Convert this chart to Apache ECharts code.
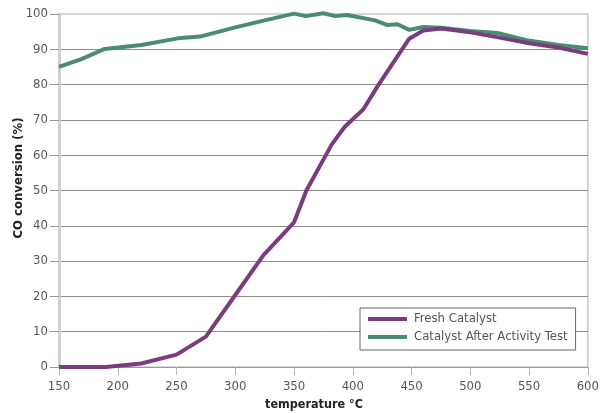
<!DOCTYPE html>
<html>
<head>
<meta charset="utf-8">
<script src="https://cdn.jsdelivr.net/npm/echarts@6/dist/echarts.min.js"></script>
<style>html,body{margin:0;padding:0;background:#fff}#c{width:602px;height:413px}</style>
</head>
<body>
<div id="c"></div>
<script>
const FONT = '"Liberation Sans Narrow","DejaVu Sans Condensed","Roboto",sans-serif';
const xTicks = [150, 200, 250, 300, 350, 400, 450, 500, 550, 600];
const freshName = 'Fresh Catalyst';
const freshTemp = [150,190,220,250,275,300,324,350,360.5,382,393,409,421,434,448,460,475,500,525,550,575,600];
const freshConv = [0,0,1,3.5,8.6,20.4,31.7,41,50,63,68,73,79.5,86,93,95.3,95.9,94.8,93.3,91.7,90.5,88.7];
const afterName = 'Catalyst After Activity Test';
const afterTemp = [150,169,189,220,251,270,300,325,350,360,375,385,395,419,429,438,448,460,475,500,523,548,575,600];
const afterConv = [85,87.2,90.1,91.2,93.1,93.6,96.2,98.2,100.1,99.4,100.2,99.4,99.7,98.2,96.9,97.1,95.5,96.3,96.1,95.2,94.6,92.6,91.2,90.3];

const pairs = (xs, ys) => xs.map((x, i) => [x, ys[i]]);
const chart = echarts.init(document.getElementById('c'), null, {renderer: 'canvas'});
chart.setOption({
  animation: false,
  backgroundColor: '#fff',
  grid: {left: 59, right: 11, top: 14, bottom: 46, show: true, borderColor: '#c8c8c8', borderWidth: 1.5, backgroundColor: 'transparent'},
  xAxis: {
    type: 'value', min: 150, max: 600, interval: 50,
    axisLine: {show: true, onZero: false, lineStyle: {color: '#999', width: 1}},
    axisTick: {show: true, length: 8, lineStyle: {color: '#bbb', width: 1}},
    axisLabel: {color: '#555', fontFamily: FONT, fontSize: 13, margin: 13,
      formatter: v => xTicks.includes(v) ? String(v) : ''},
    splitLine: {show: false}
  },
  yAxis: {
    type: 'value', min: 0, max: 100, interval: 10,
    axisLine: {show: true, lineStyle: {color: '#d0d0d0', width: 3}},
    axisTick: {show: true, length: 9, lineStyle: {color: '#999', width: 1}},
    axisLabel: {color: '#555', fontFamily: FONT, fontSize: 13, margin: 11},
    splitLine: {show: true, showMaxLine: false, lineStyle: {color: '#8c8c8c', width: 1}}
  },
  legend: {
    data: [freshName, afterName],
    orient: 'vertical', left: 360, top: 308,
    padding: [4, 8, 6, 8], itemGap: 4,
    itemWidth: 39, itemHeight: 4, icon: 'rect',
    backgroundColor: '#fff', borderColor: '#666', borderWidth: 1,
    textStyle: {color: '#555', fontFamily: FONT, fontSize: 13, lineHeight: 14, padding: [0, 0, 0, 2]}
  },
  graphic: [
    {type: 'text', x: 19, y: 178, rotation: Math.PI / 2,
      style: {text: 'CO conversion (%)', fill: '#222', font: 'bold 13px ' + FONT, textAlign: 'center', textVerticalAlign: 'middle'}},
    {type: 'text', x: 314, y: 405,
      style: {text: 'temperature °C', fill: '#222', font: 'bold 12.5px ' + FONT, textAlign: 'center', textVerticalAlign: 'middle'}}
  ],
  series: [
    {name: afterName, type: 'line', data: pairs(afterTemp, afterConv), showSymbol: false, clip: false,
      lineStyle: {color: '#4a8c72', width: 4}, itemStyle: {color: '#4a8c72'}, z: 2},
    {name: freshName, type: 'line', data: pairs(freshTemp, freshConv), showSymbol: false, clip: false,
      lineStyle: {color: '#7b3b7f', width: 4}, itemStyle: {color: '#7b3b7f'}, z: 3}
  ]
});
</script>
</body>
</html>
